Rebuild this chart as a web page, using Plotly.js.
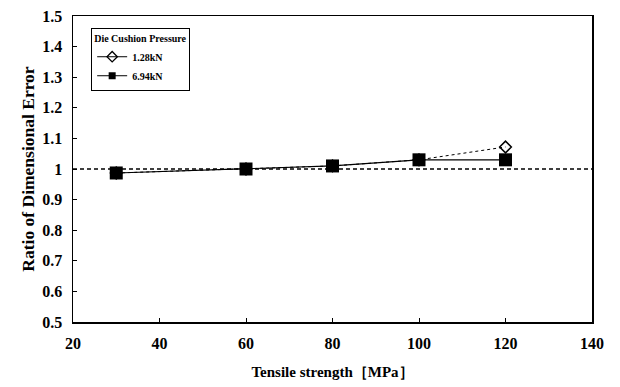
<!DOCTYPE html>
<html>
<head>
<meta charset="utf-8">
<script src="https://cdn.plot.ly/plotly-3.0.1.min.js"></script>
<style>html,body{margin:0;padding:0;background:#fff;}#chart{width:620px;height:387px;}</style>
</head>
<body>
<div id="chart"></div>
<script>
const tensileStrength = [30, 60, 80, 100, 120];
const ratio128 = [0.987, 1.0, 1.01, 1.03, 1.072];
const ratio694 = [0.987, 1.0, 1.01, 1.03, 1.03];
const seriesNames = ["1.28kN", "6.94kN"];
const referenceRatio = 1.0;
const xTicks = [20, 40, 60, 80, 100, 120, 140];
const yTicks = [0.5, 0.6, 0.7, 0.8, 0.9, 1, 1.1, 1.2, 1.3, 1.4, 1.5];

const font = "'Liberation Serif', 'Times New Roman', serif";

const traces = [
  {
    x: tensileStrength, y: ratio128, name: seriesNames[0], type: 'scatter', mode: 'lines+markers',
    showlegend: false, legendgroup: 'a',
    line: {color: '#000', width: 1, dash: 'dot'},
    marker: {symbol: 'diamond-open', size: 9, color: '#000', line: {width: 1.5, color: '#000'}}
  },
  {
    x: tensileStrength, y: ratio694, name: seriesNames[1], type: 'scatter', mode: 'lines+markers',
    showlegend: false, legendgroup: 'b',
    line: {color: '#000', width: 1.2},
    marker: {symbol: 'square', size: 13, color: '#000'}
  },
  // legend entries (smaller symbols, as in the original legend box)
  {
    x: [null], y: [null], name: seriesNames[0], type: 'scatter', mode: 'lines+markers', legendgroup: 'a',
    line: {color: '#000', width: 1},
    marker: {symbol: 'diamond-open', size: 8, color: '#000', line: {width: 1.3, color: '#000'}}
  },
  {
    x: [null], y: [null], name: seriesNames[1], type: 'scatter', mode: 'lines+markers', legendgroup: 'b',
    line: {color: '#000', width: 1},
    marker: {symbol: 'square', size: 7, color: '#000'}
  }
];

const layout = {
  width: 620, height: 387,
  margin: {l: 73, r: 28, t: 16, b: 65},
  paper_bgcolor: '#fff', plot_bgcolor: '#fff',
  font: {family: font, color: '#000'},
  showlegend: true,
  legend: {
    x: 0.035, y: 0.96, xanchor: 'left', yanchor: 'top',
    bordercolor: '#000', borderwidth: 1, bgcolor: '#fff',
    title: {text: 'Die Cushion Pressure', font: {size: 10, family: font, weight: 'bold'}},
    font: {size: 10, family: font, weight: 'bold'},
    itemwidth: 30, tracegroupgap: 0
  },
  xaxis: {
    range: [20, 140], tickvals: xTicks,
    showgrid: false, zeroline: false, showline: true, linecolor: '#000', linewidth: 1.5, mirror: true,
    ticks: 'inside', ticklen: 4, tickcolor: '#000', ticklabelstandoff: 6,
    tickfont: {size: 16, family: font, weight: 'bold'},
    title: {text: 'Tensile strength［MPa］', font: {size: 15, family: font, weight: 'bold'}, standoff: 16}
  },
  yaxis: {
    range: [0.5, 1.5], tickvals: yTicks,
    showgrid: false, zeroline: false, showline: true, linecolor: '#000', linewidth: 1.5, mirror: true,
    ticks: 'inside', ticklen: 4, tickcolor: '#000', ticklabelstandoff: 6,
    tickfont: {size: 16, family: font, weight: 'bold'},
    title: {text: 'Ratio of Dimensional Error', font: {size: 17.5, family: font, weight: 'bold'}, standoff: 3}
  },
  shapes: [{
    type: 'line', xref: 'paper', x0: 0, x1: 1, yref: 'y', y0: referenceRatio, y1: referenceRatio,
    line: {color: '#000', width: 1.5, dash: '4px,3px'}, layer: 'below'
  }]
};

Plotly.newPlot('chart', traces, layout, {displayModeBar: false, staticPlot: true});
</script>
</body>
</html>
